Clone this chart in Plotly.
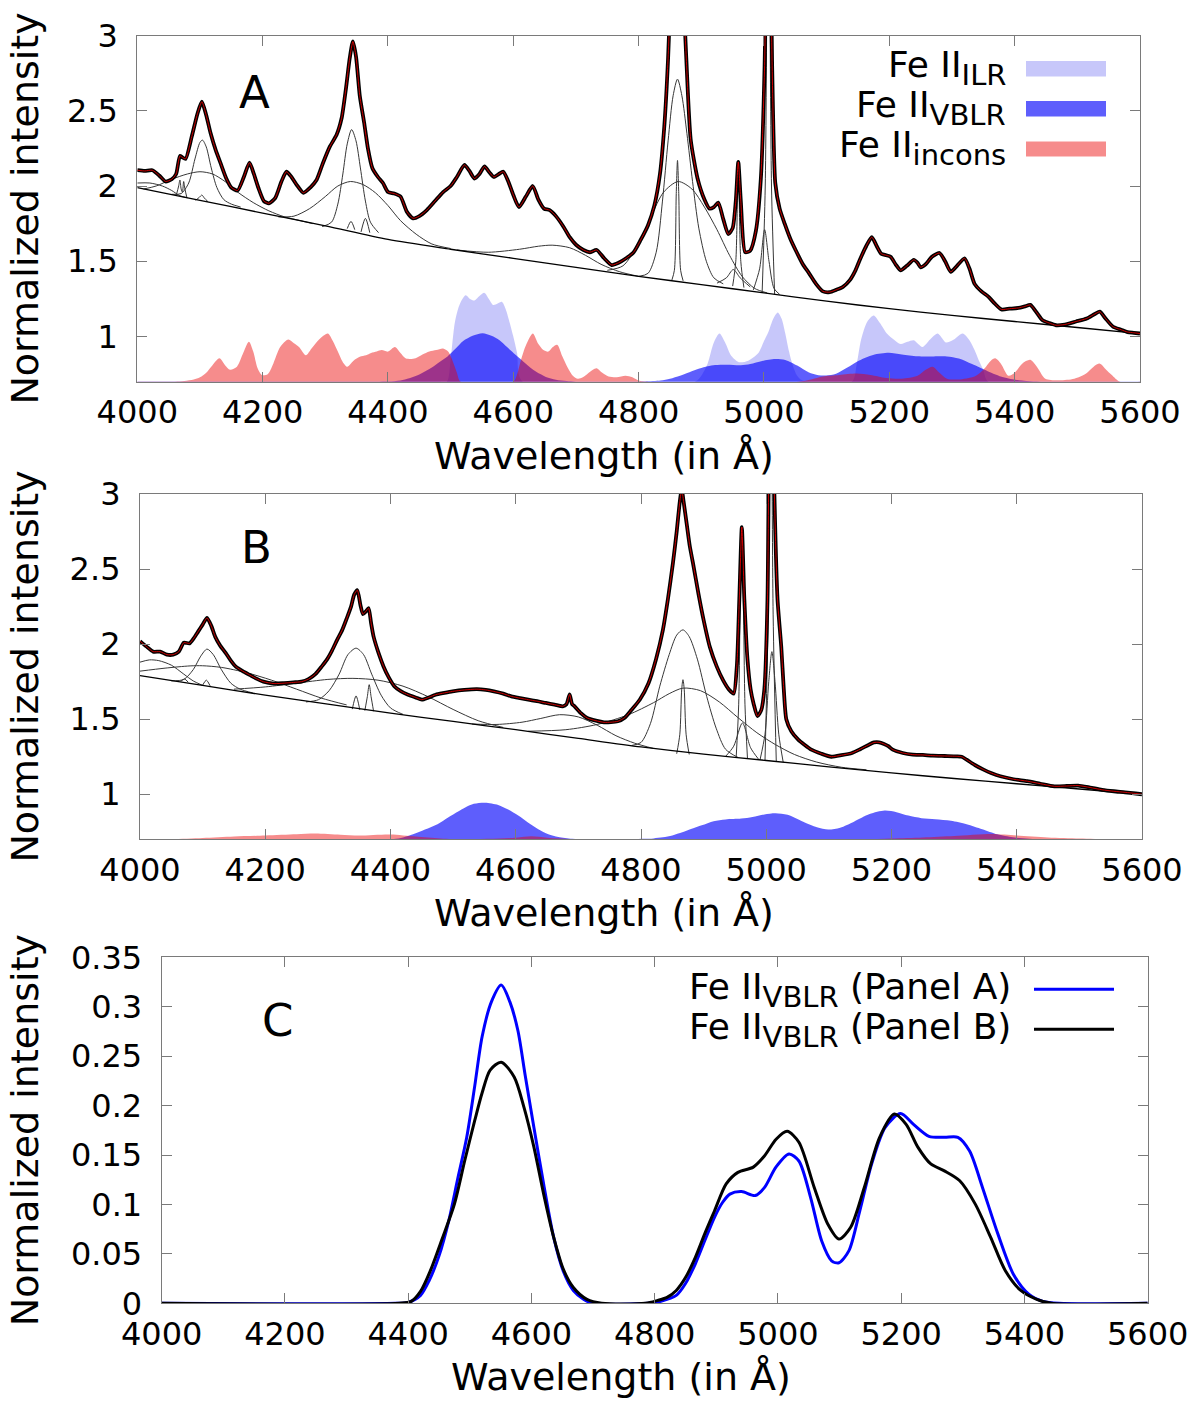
import plotly.graph_objects as go

W, H = 1200, 1403
FONT = "DejaVu Sans"

wl_ticks = [4000, 4200, 4400, 4600, 4800, 5000, 5200, 5400, 5600]
yticks_AB = [1, 1.5, 2, 2.5, 3]
yticks_AB_text = ["1", "1.5", "2", "2.5", "3"]
yticks_C = [0, 0.05, 0.1, 0.15, 0.2, 0.25, 0.3, 0.35]
yticks_C_text = ["0", "0.05", "0.1", "0.15", "0.2", "0.25", "0.3", "0.35"]
FE_BASE = 0.7  # baseline at which the Fe II templates are drawn in panels A and B

# ---------------- Panel A ----------------
obs_A = [(4000, 2.105), (4012, 2.10), (4024, 2.105), (4035, 2.07), (4045, 2.03), (4055, 2.045), (4062, 2.08),
         (4068, 2.2), (4072, 2.19), (4077, 2.18), (4087, 2.33), (4096, 2.48), (4103, 2.56), (4110, 2.47),
         (4117, 2.35), (4125, 2.24), (4133, 2.15), (4142, 2.05), (4150, 1.99), (4160, 1.97), (4170, 2.06),
         (4179, 2.155), (4186, 2.08), (4193, 1.99), (4202, 1.9), (4210, 1.885), (4220, 1.92), (4230, 2.03),
         (4238, 2.095), (4246, 2.06), (4254, 2.01), (4265, 1.955), (4276, 1.99), (4286, 2.04), (4296, 2.15),
         (4307, 2.26), (4318, 2.34), (4326, 2.45), (4333, 2.65), (4339, 2.85), (4344, 2.96), (4349, 2.86),
         (4355, 2.6), (4362, 2.42), (4368, 2.25), (4375, 2.12), (4384, 2.06), (4392, 2.02), (4400, 1.96),
         (4410, 1.95), (4420, 1.93), (4430, 1.83), (4440, 1.785), (4450, 1.80), (4462, 1.84), (4475, 1.9),
         (4488, 1.96), (4500, 2.0), (4510, 2.06), (4522, 2.14), (4530, 2.1), (4538, 2.05), (4546, 2.08),
         (4554, 2.13), (4562, 2.09), (4569, 2.06), (4577, 2.08), (4584, 2.095), (4592, 2.03), (4600, 1.94),
         (4609, 1.86), (4620, 1.93), (4631, 2.0), (4640, 1.91), (4649, 1.85), (4658, 1.84), (4668, 1.8),
         (4680, 1.73), (4690, 1.66), (4700, 1.61), (4712, 1.575), (4722, 1.56), (4733, 1.575), (4745, 1.52),
         (4757, 1.475), (4768, 1.49), (4780, 1.52), (4792, 1.56), (4803, 1.64), (4815, 1.74), (4825, 1.87),
         (4834, 2.08), (4841, 2.4), (4847, 2.85), (4852, 3.4), (4861, 4.2), (4870, 3.4), (4876, 2.85),
         (4883, 2.31), (4894, 2.05), (4905, 1.91), (4913, 1.85), (4920, 1.86), (4927, 1.89), (4935, 1.78),
         (4943, 1.68), (4950, 1.72), (4955, 1.9), (4959, 2.16), (4963, 1.9), (4970, 1.56), (4978, 1.57),
         (4987, 1.7), (4995, 2.05), (5001, 2.8), (5007, 4.5), (5013, 2.8), (5018, 2.02), (5025, 1.85),
         (5033, 1.75), (5042, 1.65), (5051, 1.57), (5062, 1.48), (5072, 1.42), (5083, 1.35), (5094, 1.30),
         (5105, 1.295), (5115, 1.31), (5126, 1.33), (5137, 1.375), (5146, 1.44), (5153, 1.51), (5163, 1.6),
         (5172, 1.66), (5180, 1.6), (5187, 1.55), (5195, 1.54), (5202, 1.53), (5210, 1.48), (5218, 1.44),
         (5228, 1.47), (5239, 1.51), (5245, 1.49), (5250, 1.46), (5258, 1.48), (5268, 1.53), (5280, 1.555),
         (5289, 1.5), (5298, 1.43), (5308, 1.47), (5320, 1.52), (5328, 1.45), (5336, 1.35), (5347, 1.3),
         (5358, 1.265), (5368, 1.22), (5379, 1.18), (5392, 1.185), (5406, 1.19), (5416, 1.2), (5425, 1.21),
         (5435, 1.16), (5444, 1.11), (5455, 1.09), (5466, 1.075), (5480, 1.08), (5498, 1.10), (5515, 1.12),
         (5528, 1.15), (5536, 1.165), (5545, 1.12), (5557, 1.065), (5570, 1.045), (5580, 1.03), (5590, 1.025),
         (5600, 1.02)]
fit_A = obs_A  # model fit overlaps the observed spectrum

cont_A = [(4000, 1.99), (4100, 1.905), (4200, 1.82), (4300, 1.735), (4400, 1.645), (4500, 1.58), (4600, 1.52),
          (4700, 1.46), (4800, 1.40), (4900, 1.345), (5000, 1.29), (5100, 1.235), (5200, 1.185), (5300, 1.14),
          (5400, 1.10), (5500, 1.06), (5600, 1.02)]

compA_tail = [(4000, 2.02), (4020, 2.02), (4040, 2.0), (4055, 1.97), (4068, 1.935), (4080, 1.922)]
compA_hd_broad = [(4010, 1.98), (4030, 2.0), (4055, 2.045), (4080, 2.08), (4100, 2.095), (4120, 2.08),
                  (4140, 2.03), (4160, 1.96), (4185, 1.89), (4210, 1.835), (4235, 1.795), (4260, 1.77), (4280, 1.75)]
compA_hd_mid = [(4055, 1.945), (4070, 1.95), (4082, 2.02), (4092, 2.18), (4100, 2.29), (4104, 2.305),
                (4110, 2.26), (4118, 2.12), (4127, 1.99), (4138, 1.91), (4150, 1.88), (4165, 1.86)]
compA_hd_nar = [(4093, 1.905), (4099, 1.925), (4103, 1.94), (4107, 1.92), (4113, 1.895)]
compA_s2 = [(4062, 1.935), (4066, 2.0), (4068, 2.04), (4070, 1.98), (4072, 1.96), (4074, 2.03), (4076, 1.98),
            (4079, 1.925)]
compA_hg_broad = [(4225, 1.795), (4250, 1.8), (4275, 1.85), (4300, 1.93), (4320, 2.0), (4340, 2.03), (4360, 2.01),
                  (4380, 1.955), (4400, 1.87), (4420, 1.77), (4445, 1.68), (4470, 1.615), (4500, 1.585)]
compA_hg_mid = [(4295, 1.73), (4310, 1.76), (4320, 1.88), (4328, 2.08), (4335, 2.28), (4342, 2.375), (4349, 2.3),
                (4356, 2.12), (4364, 1.9), (4372, 1.76), (4385, 1.69)]
compA_hg_nar = [(4335, 1.717), (4341, 1.765), (4347, 1.71)]
compA_o3_4363 = [(4357, 1.695), (4364, 1.785), (4371, 1.69)]
compA_he2 = [(4510, 1.575), (4560, 1.56), (4610, 1.58), (4640, 1.6), (4662, 1.607), (4690, 1.59), (4715, 1.54),
             (4740, 1.48), (4770, 1.43), (4800, 1.40)]
compA_hb_broad = [(4750, 1.44), (4775, 1.47), (4800, 1.62), (4820, 1.80), (4840, 1.96), (4863, 2.03),
                  (4885, 1.98), (4905, 1.86), (4925, 1.71), (4945, 1.54), (4965, 1.40), (4985, 1.32), (5005, 1.29)]
compA_hb_mid = [(4800, 1.40), (4815, 1.42), (4828, 1.56), (4838, 1.9), (4847, 2.3), (4855, 2.6), (4862, 2.71),
                (4869, 2.6), (4877, 2.35), (4886, 2.03), (4896, 1.72), (4908, 1.5), (4920, 1.39), (4935, 1.35)]
compA_hb_nar = [(4853, 1.375), (4857, 1.44), (4860, 1.95), (4862, 2.17), (4864, 1.95), (4867, 1.44), (4871, 1.37)]
compA_o3a_wing = [(4925, 1.355), (4940, 1.39), (4951, 1.445), (4962, 1.39), (4978, 1.33)]
compA_o3a_nar = [(4950, 1.335), (4955, 1.5), (4959, 2.16), (4963, 1.5), (4968, 1.325)]
compA_o3b_wing = [(4983, 1.31), (4993, 1.45), (5001, 1.71), (5008, 1.5), (5016, 1.32), (5025, 1.28)]
compA_o3b_nar = [(4997, 1.29), (5002, 2.0), (5007, 4.5), (5012, 2.0), (5017, 1.28)]

# Fe II templates (height above the FE_BASE baseline)
feii_ilr_A = [(4000, 0.0), (4480, 0.0), (4494, 0.0), (4500, 0.15), (4507, 0.40), (4515, 0.52), (4524, 0.575),
              (4531, 0.55), (4538, 0.54), (4546, 0.57), (4554, 0.59), (4561, 0.55), (4568, 0.51), (4575, 0.52),
              (4582, 0.53), (4588, 0.48), (4593, 0.41), (4600, 0.3), (4606, 0.19), (4615, 0.0), (4890, 0.0),
              (4900, 0.04), (4910, 0.12), (4920, 0.26), (4929, 0.32), (4938, 0.26), (4948, 0.17), (4960, 0.13),
              (4975, 0.14), (4991, 0.19), (5000, 0.27), (5007, 0.33), (5015, 0.42), (5022, 0.46), (5028, 0.42),
              (5034, 0.32), (5040, 0.2), (5045, 0.12), (5053, 0.04), (5061, 0.01), (5140, 0.0), (5148, 0.12),
              (5155, 0.28), (5165, 0.4), (5175, 0.44), (5185, 0.39), (5196, 0.32), (5207, 0.28), (5218, 0.25),
              (5229, 0.265), (5239, 0.275), (5246, 0.25), (5253, 0.23), (5265, 0.28), (5277, 0.32), (5284, 0.29),
              (5290, 0.26), (5303, 0.28), (5317, 0.32), (5327, 0.28), (5336, 0.21), (5343, 0.14), (5350, 0.08),
              (5358, 0.0), (5600, 0.0)]
feii_incons_A = [(4000, 0.0), (4060, 0.0), (4075, 0.005), (4090, 0.015), (4100, 0.03), (4110, 0.06), (4120, 0.11),
                 (4131, 0.155), (4140, 0.11), (4148, 0.08), (4159, 0.1), (4168, 0.18), (4178, 0.265), (4185, 0.2),
                 (4192, 0.09), (4199, 0.045), (4208, 0.05), (4217, 0.12), (4228, 0.23), (4241, 0.28), (4250, 0.255),
                 (4258, 0.23), (4269, 0.175), (4278, 0.22), (4290, 0.28), (4304, 0.32), (4312, 0.27), (4320, 0.2),
                 (4328, 0.13), (4335, 0.1), (4345, 0.14), (4355, 0.165), (4365, 0.175), (4373, 0.19), (4382, 0.2),
                 (4390, 0.21), (4400, 0.2), (4411, 0.23), (4420, 0.19), (4428, 0.155), (4436, 0.15), (4444, 0.155),
                 (4455, 0.18), (4466, 0.2), (4477, 0.21), (4488, 0.22), (4496, 0.2), (4503, 0.14), (4510, 0.06),
                 (4516, 0.0), (4600, 0.0), (4606, 0.05), (4612, 0.14), (4620, 0.24), (4631, 0.32), (4640, 0.25),
                 (4648, 0.21), (4656, 0.2), (4663, 0.23), (4670, 0.245), (4678, 0.17), (4686, 0.1), (4695, 0.04),
                 (4703, 0.02), (4711, 0.03), (4719, 0.055), (4727, 0.08), (4733, 0.09), (4742, 0.06), (4752, 0.035),
                 (4765, 0.03), (4779, 0.04), (4790, 0.03), (4799, 0.01), (4812, 0.0), (5055, 0.0), (5075, 0.015),
                 (5094, 0.035), (5120, 0.045), (5148, 0.055), (5170, 0.045), (5195, 0.025), (5220, 0.02),
                 (5245, 0.04), (5258, 0.08), (5269, 0.1), (5280, 0.06), (5292, 0.02), (5310, 0.015), (5336, 0.035),
                 (5350, 0.08), (5362, 0.14), (5369, 0.155), (5378, 0.12), (5390, 0.04), (5400, 0.06), (5412, 0.12),
                 (5425, 0.145), (5437, 0.09), (5449, 0.02), (5471, 0.01), (5495, 0.02), (5514, 0.055), (5526, 0.1),
                 (5536, 0.12), (5546, 0.08), (5555, 0.045), (5568, 0.0), (5600, 0.0)]
# Fe II VBLR template of panel A (also the blue curve of panel C)
feii_vblr_A = [(4000, 0.0), (4380, 0.0), (4400, 0.001), (4420, 0.008), (4434, 0.023), (4450, 0.048), (4466, 0.084),
               (4480, 0.125), (4495, 0.168), (4508, 0.22), (4520, 0.27), (4535, 0.305), (4551, 0.322), (4565, 0.305),
               (4578, 0.276), (4590, 0.23), (4604, 0.178), (4620, 0.12), (4636, 0.067), (4652, 0.032),
               (4668, 0.013), (4685, 0.004), (4700, 0.0), (4790, 0.0), (4810, 0.002), (4835, 0.008), (4850, 0.02),
               (4866, 0.04), (4881, 0.063), (4897, 0.087), (4910, 0.102), (4922, 0.1105), (4941, 0.113),
               (4963, 0.109), (4978, 0.117), (4997, 0.138), (5018, 0.151), (5034, 0.144), (5053, 0.107),
               (5071, 0.063), (5087, 0.043), (5099, 0.041), (5115, 0.053), (5133, 0.094), (5152, 0.141),
               (5174, 0.178), (5199, 0.192), (5220, 0.181), (5245, 0.169), (5270, 0.168), (5292, 0.168),
               (5311, 0.154), (5332, 0.117), (5357, 0.07), (5382, 0.0295), (5407, 0.0093), (5430, 0.002),
               (5456, 0.0), (5600, 0.0)]

# ---------------- Panel B ----------------
obs_B = [(4000, 2.02), (4010, 1.985), (4021, 1.95), (4032, 1.95), (4043, 1.93), (4053, 1.93), (4062, 1.95),
         (4070, 2.01), (4079, 2.005), (4086, 2.04), (4093, 2.085), (4100, 2.13), (4107, 2.175), (4114, 2.12),
         (4120, 2.05), (4128, 1.99), (4137, 1.94), (4145, 1.89), (4153, 1.85), (4164, 1.82), (4175, 1.795),
         (4186, 1.77), (4197, 1.75), (4214, 1.737), (4230, 1.74), (4245, 1.745), (4258, 1.75), (4269, 1.767),
         (4280, 1.8), (4290, 1.85), (4299, 1.9), (4307, 1.96), (4315, 2.03), (4323, 2.095), (4330, 2.17),
         (4337, 2.25), (4342, 2.33), (4347, 2.36), (4352, 2.26), (4356, 2.2), (4361, 2.22), (4365, 2.24),
         (4369, 2.14), (4373, 2.05), (4381, 1.94), (4389, 1.85), (4397, 1.78), (4406, 1.72), (4417, 1.685),
         (4428, 1.663), (4440, 1.645), (4450, 1.63), (4461, 1.645), (4472, 1.663), (4486, 1.675), (4499, 1.685),
         (4518, 1.695), (4538, 1.70), (4552, 1.695), (4565, 1.685), (4580, 1.67), (4593, 1.652), (4607, 1.64),
         (4620, 1.63), (4634, 1.62), (4648, 1.608), (4662, 1.597), (4675, 1.586), (4681, 1.6), (4686, 1.665),
         (4690, 1.6), (4694, 1.586), (4704, 1.54), (4714, 1.508), (4728, 1.49), (4741, 1.479), (4752, 1.48),
         (4763, 1.486), (4774, 1.51), (4785, 1.563), (4798, 1.63), (4812, 1.74), (4824, 1.9), (4835, 2.095),
         (4843, 2.3), (4851, 2.54), (4857, 2.75), (4862, 2.95), (4865, 3.03), (4868, 2.95), (4873, 2.8),
         (4878, 2.65), (4883, 2.54), (4892, 2.33), (4900, 2.16), (4910, 1.98), (4921, 1.85), (4931, 1.76),
         (4940, 1.70), (4948, 1.67), (4953, 1.85), (4957, 2.3), (4961, 2.78), (4965, 2.3), (4970, 1.9),
         (4975, 1.7), (4980, 1.6), (4986, 1.52), (4992, 1.56), (4997, 1.7), (5002, 2.3), (5007, 4.5),
         (5013, 3.0), (5018, 2.3), (5024, 1.98), (5028, 1.7), (5032, 1.5), (5040, 1.42), (5051, 1.364),
         (5061, 1.33), (5072, 1.297), (5088, 1.27), (5104, 1.25), (5120, 1.26), (5137, 1.275), (5150, 1.3),
         (5164, 1.33), (5172, 1.345), (5180, 1.346), (5188, 1.335), (5195, 1.32), (5202, 1.297), (5218, 1.275),
         (5234, 1.264), (5250, 1.262), (5266, 1.257), (5285, 1.255), (5304, 1.253), (5312, 1.25), (5320, 1.23),
         (5333, 1.195), (5347, 1.164), (5360, 1.14), (5374, 1.12), (5395, 1.1), (5417, 1.087), (5438, 1.07),
         (5460, 1.053), (5480, 1.055), (5498, 1.058), (5517, 1.045), (5536, 1.03), (5555, 1.02), (5573, 1.013),
         (5590, 1.005), (5600, 1.0)]
fit_B = obs_B

cont_B = [(4000, 1.79), (4100, 1.725), (4200, 1.66), (4300, 1.6), (4400, 1.54), (4500, 1.485), (4600, 1.43),
          (4700, 1.372), (4800, 1.315), (4900, 1.268), (5000, 1.225), (5100, 1.183), (5200, 1.142), (5300, 1.105),
          (5400, 1.07), (5500, 1.035), (5600, 1.0)]

compB_tail = [(4000, 1.88), (4015, 1.895), (4030, 1.89), (4050, 1.86), (4070, 1.8), (4085, 1.755), (4100, 1.725)]
compB_hd_broad = [(4000, 1.82), (4040, 1.84), (4080, 1.855), (4100, 1.856), (4130, 1.845), (4170, 1.81),
                  (4210, 1.76), (4250, 1.7), (4290, 1.64), (4330, 1.595)]
compB_hd_mid = [(4050, 1.755), (4070, 1.765), (4085, 1.83), (4097, 1.92), (4107, 1.967), (4117, 1.93),
                (4130, 1.83), (4145, 1.74), (4160, 1.70), (4180, 1.675)]
compB_hd_nar = [(4100, 1.727), (4106, 1.76), (4112, 1.722)]
compB_s2 = [(4065, 1.752), (4071, 1.768), (4077, 1.746)]
compB_hg_broad = [(4150, 1.70), (4200, 1.715), (4250, 1.74), (4300, 1.765), (4340, 1.772), (4380, 1.76),
                  (4420, 1.72), (4460, 1.65), (4500, 1.565), (4540, 1.49), (4580, 1.445)]
compB_hg_mid = [(4265, 1.615), (4285, 1.63), (4302, 1.69), (4318, 1.8), (4332, 1.93), (4345, 1.973),
                (4357, 1.93), (4370, 1.8), (4385, 1.66), (4400, 1.575), (4420, 1.532)]
compB_hg_nar = [(4339, 1.567), (4345, 1.655), (4351, 1.562)]
compB_o3_4363 = [(4359, 1.557), (4363, 1.65), (4366, 1.73), (4369, 1.65), (4373, 1.553)]
compB_he2 = [(4530, 1.468), (4570, 1.465), (4610, 1.48), (4640, 1.505), (4670, 1.53), (4700, 1.515),
             (4730, 1.46), (4760, 1.39), (4790, 1.34), (4820, 1.305)]
compB_hb_broad = [(4620, 1.42), (4680, 1.43), (4730, 1.465), (4780, 1.53), (4820, 1.61), (4845, 1.67),
                  (4867, 1.707), (4895, 1.69), (4925, 1.615), (4955, 1.51), (4985, 1.41), (5015, 1.33),
                  (5045, 1.265), (5080, 1.215), (5120, 1.18), (5160, 1.163)]
compB_hb_mid = [(4785, 1.325), (4800, 1.345), (4815, 1.47), (4830, 1.72), (4845, 1.93), (4857, 2.06),
                (4867, 2.095), (4877, 2.05), (4890, 1.9), (4905, 1.65), (4920, 1.44), (4935, 1.30), (4955, 1.245)]
compB_hb_nar = [(4857, 1.27), (4862, 1.4), (4865, 1.7), (4867, 1.763), (4869, 1.7), (4872, 1.4), (4877, 1.265)]
compB_o3a_wing = [(4935, 1.252), (4948, 1.32), (4962, 1.475), (4975, 1.31), (4988, 1.232)]
compB_o3a_nar = [(4952, 1.248), (4956, 1.6), (4959, 2.5), (4961, 2.78), (4963, 2.5), (4966, 1.6), (4970, 1.24)]
compB_o3b_wing = [(4990, 1.228), (4998, 1.4), (5004, 1.75), (5009, 1.95), (5014, 1.75), (5020, 1.4), (5027, 1.215)]
compB_o3b_nar = [(4998, 1.226), (5003, 2.2), (5007, 4.5), (5011, 2.2), (5016, 1.218)]

feii_incons_B = [(4000, 0.0), (4050, 0.0), (4100, 0.008), (4150, 0.018), (4200, 0.025), (4250, 0.033),
                 (4280, 0.038), (4320, 0.03), (4350, 0.025), (4400, 0.032), (4440, 0.018), (4480, 0.005),
                 (4520, 0.0), (4600, 0.01), (4625, 0.02), (4650, 0.01), (4700, 0.0), (5150, 0.0), (5200, 0.005),
                 (5250, 0.012), (5300, 0.022), (5360, 0.035), (5400, 0.025), (5450, 0.012), (5500, 0.005),
                 (5550, 0.0), (5600, 0.0)]
# Fe II VBLR template of panel B (also the black curve of panel C)
feii_vblr_B = [(4000, 0.0), (4385, 0.0), (4405, 0.002), (4420, 0.012), (4436, 0.033), (4455, 0.065),
               (4475, 0.1005), (4492, 0.145), (4508, 0.185), (4520, 0.213), (4533, 0.236), (4551, 0.244),
               (4572, 0.229), (4588, 0.198), (4604, 0.158), (4620, 0.11), (4636, 0.067), (4652, 0.034),
               (4668, 0.016), (4690, 0.004), (4714, 0.0), (4785, 0.0), (4805, 0.003), (4820, 0.006), (4835, 0.013),
               (4850, 0.026), (4866, 0.0465), (4881, 0.07), (4897, 0.0934), (4916, 0.1208), (4935, 0.1325),
               (4960, 0.1378), (4978, 0.149), (4997, 0.166), (5015, 0.174), (5034, 0.163), (5059, 0.117),
               (5081, 0.08), (5099, 0.065), (5118, 0.077), (5140, 0.117), (5165, 0.168), (5189, 0.1915),
               (5208, 0.181), (5227, 0.158), (5248, 0.141), (5270, 0.134), (5295, 0.124), (5320, 0.1006),
               (5345, 0.067), (5369, 0.033), (5394, 0.013), (5420, 0.004), (5444, 0.0), (5600, 0.0)]

components_A = [compA_tail, compA_hd_broad, compA_hd_mid, compA_hd_nar, compA_s2, compA_hg_broad, compA_hg_mid,
                compA_hg_nar, compA_o3_4363, compA_he2, compA_hb_broad, compA_hb_mid, compA_hb_nar,
                compA_o3a_wing, compA_o3a_nar, compA_o3b_wing, compA_o3b_nar]
components_B = [compB_tail, compB_hd_broad, compB_hd_mid, compB_hd_nar, compB_s2, compB_hg_broad, compB_hg_mid,
                compB_hg_nar, compB_o3_4363, compB_he2, compB_hb_broad, compB_hb_mid, compB_hb_nar,
                compB_o3a_wing, compB_o3a_nar, compB_o3b_wing, compB_o3b_nar]

# colours
C_ILR = "rgba(40,40,235,0.26)"
C_VBLR = "rgba(0,0,250,0.63)"
C_INC = "rgba(235,0,0,0.45)"
C_COMP = "rgb(55,55,55)"


def xs(p):
    return [a for a, _ in p]


def ys(p, off=0.0):
    return [b + off for _, b in p]


def px(x):
    return x / W


def py(y):
    return 1 - y / H


fig = go.Figure()


def add_fill(pts, color, xa, ya):
    fig.add_trace(go.Scatter(x=xs(pts), y=ys(pts, FE_BASE), mode="lines", fill="tozeroy", fillcolor=color,
                             line=dict(width=0, shape="spline", smoothing=0.8, color="rgba(0,0,0,0)"),
                             xaxis=xa, yaxis=ya, hoverinfo="skip"))


def add_line(pts, color, width, xa, ya, smoothing=0.8):
    fig.add_trace(go.Scatter(x=xs(pts), y=ys(pts), mode="lines",
                             line=dict(color=color, width=width, shape="spline", smoothing=smoothing),
                             xaxis=xa, yaxis=ya, hoverinfo="skip"))


# Panel A
add_fill(feii_ilr_A, C_ILR, "x", "y")
add_fill(feii_vblr_A, C_VBLR, "x", "y")
add_fill(feii_incons_A, C_INC, "x", "y")
for comp in components_A:
    add_line(comp, C_COMP, 1, "x", "y")
add_line(cont_A, "black", 1.3, "x", "y")
add_line(obs_A, "black", 3.8, "x", "y", 0.6)
add_line(fit_A, "rgb(255,0,0)", 0.8, "x", "y", 0.6)

# Panel B
add_fill(feii_vblr_B, C_VBLR, "x2", "y2")
add_fill(feii_incons_B, C_INC, "x2", "y2")
for comp in components_B:
    add_line(comp, C_COMP, 1, "x2", "y2")
add_line(cont_B, "black", 1.3, "x2", "y2")
add_line(obs_B, "black", 3.8, "x2", "y2", 0.6)
add_line(fit_B, "rgb(255,0,0)", 0.8, "x2", "y2", 0.6)

# Panel C
add_line(feii_vblr_A, "rgb(0,0,255)", 3, "x3", "y3")
add_line(feii_vblr_B, "black", 3, "x3", "y3")

tickfont = dict(family=FONT, size=32, color="black")
axis_common = dict(ticks="inside", ticklen=10, tickwidth=1, tickcolor="#7a7a7a", showline=True,
                   linecolor="#7a7a7a", linewidth=1.2, mirror="ticks", showgrid=False, zeroline=False,
                   tickfont=tickfont, automargin=False)
xcommon = dict(axis_common, range=[4000, 5600], tickmode="array", tickvals=wl_ticks,
               ticktext=[str(v) for v in wl_ticks], ticklabelstandoff=2)

domA_x = [px(137.3), px(1140)]
domA_y = [py(381.7), py(35.5)]
domB_x = [px(140), px(1142)]
domB_y = [py(839.3), py(494)]
domC_x = [px(161.7), px(1147.7)]
domC_y = [py(1303.3), py(957.3)]

fig.update_layout(
    width=W, height=H, autosize=False, margin=dict(l=0, r=0, t=0, b=0, pad=0),
    paper_bgcolor="white", plot_bgcolor="white", showlegend=False,
    font=dict(family=FONT, color="black"),
    xaxis=dict(xcommon, domain=domA_x, anchor="y"),
    yaxis=dict(axis_common, domain=domA_y, anchor="x", range=[0.7, 3.0], tickmode="array",
               tickvals=yticks_AB, ticktext=yticks_AB_text, ticklabelstandoff=12),
    xaxis2=dict(xcommon, domain=domB_x, anchor="y2"),
    yaxis2=dict(axis_common, domain=domB_y, anchor="x2", range=[0.7, 3.0], tickmode="array",
                tickvals=yticks_AB, ticktext=yticks_AB_text, ticklabelstandoff=12),
    xaxis3=dict(xcommon, domain=domC_x, anchor="y3"),
    yaxis3=dict(axis_common, domain=domC_y, anchor="x3", range=[0, 0.3501], tickmode="array",
                tickvals=yticks_C, ticktext=yticks_C_text, ticklabelstandoff=12),
)

ann = []


def text(x, y, s, size, xanchor="center", angle=0):
    ann.append(dict(x=px(x), y=py(y), xref="paper", yref="paper", text=s, showarrow=False,
                    xanchor=xanchor, yanchor="middle", textangle=angle,
                    font=dict(family=FONT, size=size, color="black")))


# axis titles
for yc in (208.6, 666.6, 1130.3):
    text(25, yc, "Normalized intensity", 38, angle=-90)
text(604, 456, "Wavelength (in Å)", 38)
text(604, 913, "Wavelength (in Å)", 38)
text(621, 1377, "Wavelength (in Å)", 38)

# panel letters
text(254, 93, "A", 45)
text(256, 548, "B", 45)
text(277, 1020, "C", 45)

SUB = "<sub><span style='font-size:29px'>{}</span></sub>"
# legend panel A
text(1008, 68, "Fe II" + SUB.format("ILR"), 36, xanchor="right")
text(1008, 108, "Fe II" + SUB.format("VBLR"), 36, xanchor="right")
text(1008, 148, "Fe II" + SUB.format("incons"), 36, xanchor="right")
# legend panel C
text(1013, 990, "Fe II" + SUB.format("VBLR") + " (Panel A)", 36, xanchor="right")
text(1013, 1030, "Fe II" + SUB.format("VBLR") + " (Panel B)", 36, xanchor="right")
fig.update_layout(annotations=ann)

shapes = []
for (y0, y1), col in zip([(61, 76.5), (101, 116.5), (141.5, 156.5)], [C_ILR, C_VBLR, C_INC]):
    shapes.append(dict(type="rect", xref="paper", yref="paper", x0=px(1026), x1=px(1106), y0=py(y1), y1=py(y0),
                       fillcolor=col, line=dict(width=0), layer="above"))
for yy, col in [(989.3, "rgb(0,0,255)"), (1029.3, "black")]:
    shapes.append(dict(type="line", xref="paper", yref="paper", x0=px(1034), x1=px(1114), y0=py(yy), y1=py(yy),
                       line=dict(color=col, width=3), layer="above"))
fig.update_layout(shapes=shapes)

fig.write_html("out.html")
